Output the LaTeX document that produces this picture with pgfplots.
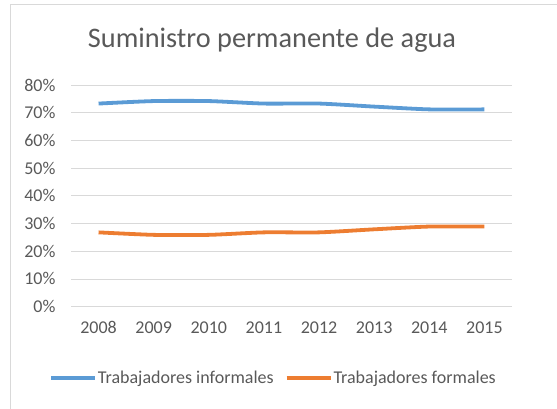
\documentclass[border=0pt]{standalone}
\usepackage{pgfplots}
\pgfplotsset{compat=1.18}
\usepackage{fontspec}
\setmainfont{Carlito}
\definecolor{txt}{RGB}{89,89,89}
\definecolor{gridc}{RGB}{217,217,217}
\definecolor{cblue}{RGB}{91,155,213}
\definecolor{corange}{RGB}{237,125,49}
\begin{document}
\begin{tikzpicture}[x=1pt,y=1pt]
\useasboundingbox (0,0) rectangle (557,408);
\draw[gridc, line width=1pt] (10.5,-10) -- (10.5,403.5) -- (570,403.5);
\node[anchor=base, text=txt, font=\fontsize{28.3}{32}\selectfont] at (272,360) {Suministro permanente de agua};
\begin{axis}[
  at={(71pt,101.4pt)}, anchor=south west,
  scale only axis, width=441pt, height=221.6pt,
  xmin=2007.5, xmax=2015.5, ymin=0, ymax=80,
  xtick={2008,...,2015}, ytick={0,10,...,80},
  axis line style={draw=none},
  major tick length=0pt,
  ymajorgrids, grid style={draw=gridc, line width=0.8pt},
  /pgf/number format/assume math mode=true,
  /pgf/number format/1000 sep={},
  tick label style={text=txt, font=\fontsize{18}{21}\selectfont},
  yticklabel={\pgfmathprintnumber{\tick}\%},
  yticklabel style={xshift=-12pt},
  xticklabel style={anchor=base, yshift=-26.4pt},
  legend style={draw=none, fill=none, at={(0.458,-0.322)}, anchor=center,
    font=\fontsize{18}{21}\selectfont, text=txt, legend columns=2,
    inner sep=0pt,
    /tikz/every even column/.append style={column sep=10pt},
    /tikz/every odd column/.append style={column sep=0pt},
    nodes={inner sep=1pt}},
  legend image code/.code={\draw[#1, line width=3.8pt] (0pt,0pt) -- (44pt,0pt);},
  legend cell align=left,
]
\addplot[cblue, line width=3.8pt, smooth, tension=0.4] coordinates {
(2008,73.3) (2009,74.2) (2010,74.2) (2011,73.3) (2012,73.3) (2013,72.2) (2014,71.2) (2015,71.2)};
\addlegendentry{Trabajadores informales}
\addplot[corange, line width=3.8pt, smooth, tension=0.4] coordinates {
(2008,26.8) (2009,25.9) (2010,25.9) (2011,26.8) (2012,26.8) (2013,27.9) (2014,28.9) (2015,28.9)};
\addlegendentry{Trabajadores formales}
\end{axis}
\end{tikzpicture}
\end{document}
